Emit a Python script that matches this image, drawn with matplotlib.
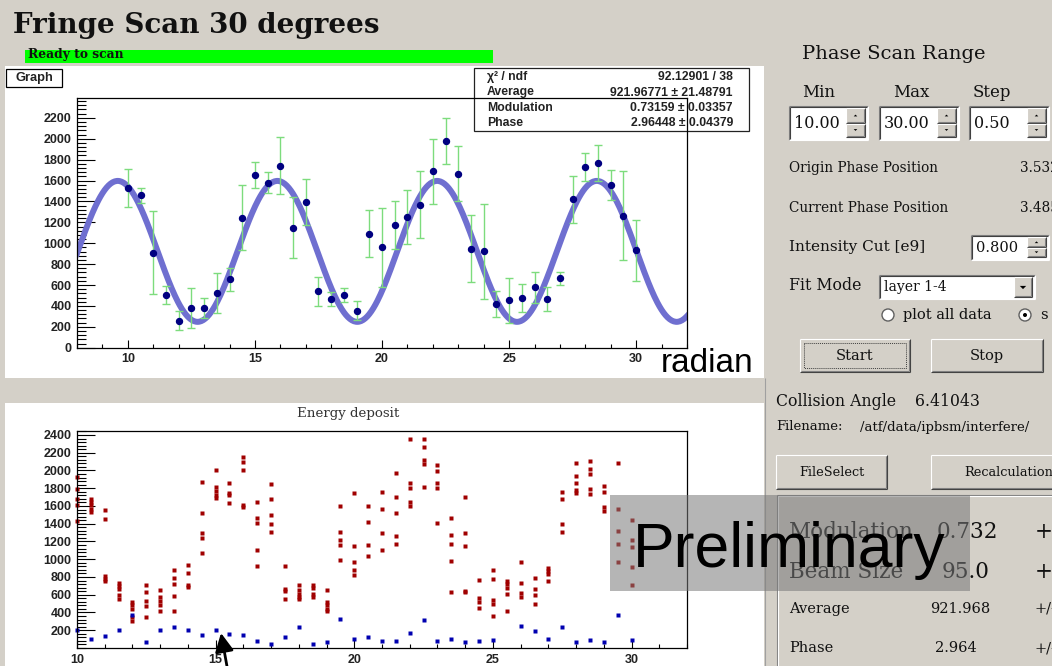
import numpy as np
import matplotlib.pyplot as plt
from matplotlib.patches import Rectangle, Circle, Polygon

W, H = 1052, 666
PANEL = '#d4d0c8'
SERIF = 'DejaVu Serif'
SANS = 'Liberation Sans'

# fit result shown in the stats box
fit_chi2 = '92.12901 / 38'
fit_average = 921.96771
fit_average_err = 21.48791
fit_modulation = 0.73159
fit_modulation_err = 0.03357
fit_phase = 2.96448
fit_phase_err = 0.04379

# fringe scan points (phase in radian)
phase_x = [10.0, 10.5, 11.0, 11.5, 12.0, 12.5, 13.0, 13.5, 14.0, 14.5,
           15.0, 15.5, 16.0, 16.5, 17.0, 17.5, 18.0, 18.5, 19.0, 19.5,
           20.0, 20.5, 21.0, 21.5, 22.0, 22.5, 23.0, 23.5, 24.0, 24.5,
           25.0, 25.5, 26.0, 26.5, 27.0, 27.5, 28.0, 28.5, 29.0, 29.5, 30.0]
signal = [1530, 1457, 908, 504, 258, 379, 379, 526, 653, 1246,
          1655, 1578, 1741, 1148, 1393, 539, 465, 507, 354, 1093,
          960, 1170, 1250, 1368, 1690, 1980, 1667, 947, 921, 418,
          456, 478, 577, 465, 663, 1419, 1728, 1769, 1556, 1263, 931]
signal_err = [185, 68, 397, 86, 93, 188, 98, 190, 108, 311,
              125, 100, 273, 291, 220, 140, 64, 68, 92, 223,
              378, 230, 261, 322, 311, 217, 261, 322, 451, 128,
              215, 132, 150, 115, 65, 223, 134, 170, 145, 427, 292]

# energy deposit: several layers (red) and background (blue) per phase step
energy_red = [
    [1922, 1787, 1682, 1614, 1430], [1680, 1645, 1610, 1570, 1530],
    [1554, 1449, 809, 775, 755], [734, 700, 665, 595, 550],
    [520, 480, 445, 350, 300], [708, 633, 527, 471, 350],
    [659, 580, 530, 490, 414], [877, 794, 719, 587, 414],
    [937, 845, 710, 690], [1874, 1524, 1291, 1234, 1065],
    [2005, 1810, 1772, 1723, 1693], [1862, 1750, 1720, 1629],
    [2156, 2096, 2005, 1610, 1592], [1640, 1464, 1407, 1103, 926],
    [1843, 1682, 1494, 1392, 1302], [926, 665, 640, 557],
    [708, 659, 614, 576, 550], [708, 681, 606, 569],
    [651, 520, 482, 444, 418], [1599, 1302, 1215, 1159, 997],
    [1742, 1148, 971, 877, 824], [1599, 1422, 1159, 1042],
    [1761, 1569, 1291, 1103], [1968, 1697, 1524, 1261, 1170],
    [2359, 1855, 1800, 1640, 1595], [2359, 2269, 2118, 2070, 1813],
    [2065, 1994, 1862, 1798, 1407], [1464, 1272, 1170, 982, 633],
    [1697, 1291, 1148, 644, 633], [764, 565, 520, 456],
    [881, 775, 546, 501, 358], [757, 720, 680, 606, 414],
    [967, 734, 621, 576], [794, 670, 595, 501],
    [907, 870, 830, 753], [1761, 1682, 1392, 1302],
    [2080, 1934, 1859, 1780, 1750], [2107, 2017, 1960, 1787, 1734],
    [1828, 1753, 1592, 1547], [2080, 1569, 1317, 1170, 967],
    [1437, 1215, 1140, 911, 708],
]
energy_blue = [200, 106, 136, 200, 369, 65, 208, 238, 208, 151,
               200, 162, 151, 80, 50, 121, 238, 50, 65, 324,
               106, 121, 80, 80, 166, 313, 80, 106, 65, 80,
               95, np.nan, 253, 196, 106, 238, 65, 95, 65, 369, 95]

top_xticks = [10, 15, 20, 25, 30]
top_yticks = list(range(0, 2201, 200))
bot_yticks = list(range(200, 2401, 200))


def rect(ax, x0, y0, x1, y1, **kw):
    ax.add_patch(Rectangle((x0, y0), x1 - x0, y1 - y0, **kw))


def line(ax, xs, ys, color, lw=0.8, **kw):
    ax.plot(xs, ys, color=color, lw=lw, solid_capstyle='butt', **kw)


def raised(ax, x0, y0, x1, y1):
    rect(ax, x0, y0, x1, y1, fc=PANEL, ec='none')
    line(ax, [x0, x1], [y0, y0], 'white')
    line(ax, [x0, x0], [y0, y1], 'white')
    line(ax, [x0, x1], [y1, y1], '#404040')
    line(ax, [x1, x1], [y0, y1], '#404040')
    line(ax, [x0 + 1, x1 - 1], [y1 - 1, y1 - 1], '#808080')
    line(ax, [x1 - 1, x1 - 1], [y0 + 1, y1 - 1], '#808080')


def sunken(ax, x0, y0, x1, y1, fc='white'):
    rect(ax, x0, y0, x1, y1, fc=fc, ec='none')
    line(ax, [x0, x1], [y0, y0], '#808080')
    line(ax, [x0, x0], [y0, y1], '#808080')
    line(ax, [x0 + 1, x1 - 1], [y0 + 1, y0 + 1], '#404040')
    line(ax, [x0 + 1, x0 + 1], [y0 + 1, y1 - 1], '#404040')
    line(ax, [x0, x1], [y1, y1], 'white')
    line(ax, [x1, x1], [y0, y1], 'white')


def arrow_tri(ax, cx, cy, up, s=2.2):
    d = -s if up else s
    ax.add_patch(Polygon([(cx - s, cy - d / 2), (cx + s, cy - d / 2), (cx, cy + d / 2)],
                         closed=True, fc='black', ec='none'))


def spinbox(ax, x0, y0, x1, y1, value, size=11.5):
    sunken(ax, x0, y0, x1, y1)
    bx0, bx1 = x1 - 22, x1 - 3
    ym = (y0 + y1) / 2
    raised(ax, bx0, y0 + 2, bx1, ym - 0.5)
    raised(ax, bx0, ym + 0.5, bx1, y1 - 3)
    arrow_tri(ax, (bx0 + bx1) / 2, (y0 + 2 + ym) / 2, True, 1.8)
    arrow_tri(ax, (bx0 + bx1) / 2, (ym + y1 - 3) / 2, False, 1.8)
    ax.text(x0 + 5, ym + 1, value, family=SERIF, size=size, va='center', color='#111')


fig = plt.figure(figsize=(W / 100, H / 100), dpi=100, facecolor=PANEL)

# background layer in pixel coordinates
bg = fig.add_axes([0, 0, 1, 1], zorder=0)
bg.set_xlim(0, W)
bg.set_ylim(H, 0)
bg.axis('off')

# canvases
rect(bg, 5, 66, 764, 378, fc='white', ec='none')
rect(bg, 5, 403, 764, H + 2, fc='white', ec='none')

# header
bg.text(13, 33, 'Fringe Scan 30 degrees', family=SERIF, weight='bold', size=20,
        va='baseline', color='#111')
rect(bg, 25, 50, 493, 63, fc='#00ff00', ec='none')
bg.text(28, 58, 'Ready to scan', family=SERIF, weight='bold', size=8.8,
        va='baseline', color='#111')

# "Graph" label and stats box
rect(bg, 6, 69, 62, 87, fc='white', ec='black', lw=0.9)
bg.text(34, 78.5, 'Graph', family=SANS, weight='bold', size=9.3, ha='center',
        va='center', color='#222')
rect(bg, 474, 68, 749, 131, fc='white', ec='#222', lw=0.9)
stats = [('χ² / ndf', fit_chi2),
         ('Average', f'{fit_average:.5f} ± {fit_average_err:.5f}'),
         ('Modulation', f'{fit_modulation:.5f} ± {fit_modulation_err:.5f}'),
         ('Phase', f'{fit_phase:.5f} ± {fit_phase_err:.5f}')]
for i, (name, val) in enumerate(stats):
    yy = 77 + i * 15.5
    bg.text(487, yy, name, family=SANS, weight='bold', size=8.8, va='center', color='#222')
    bg.text(733, yy, val, family=SANS, weight='bold', size=8.8, va='center', ha='right',
            color='#222')

bg.text(661, 372, 'radian', family=SANS, size=24, va='baseline', color='black')
bg.text(348, 414, 'Energy deposit', family=SERIF, size=9.6, ha='center', va='center',
        color='#333')

# right control panel
bg.text(802, 59, 'Phase Scan Range', family=SERIF, size=14, va='baseline', color='#111')
for label, xx in [('Min', 802), ('Max', 893), ('Step', 973)]:
    bg.text(xx, 97, label, family=SERIF, size=12, va='baseline', color='#111')
spinbox(bg, 789, 106, 868, 140, '10.00')
spinbox(bg, 879, 106, 959, 140, '30.00')
spinbox(bg, 969, 106, 1049, 140, '0.50')

bg.text(789, 168, 'Origin Phase Position', family=SERIF, size=9.8, va='center', color='#111')
bg.text(1020, 168, '3.532', family=SERIF, size=9.8, va='center', color='#111')
bg.text(789, 208, 'Current Phase Position', family=SERIF, size=9.8, va='center', color='#111')
bg.text(1020, 208, '3.485', family=SERIF, size=9.8, va='center', color='#111')

bg.text(789, 247, 'Intensity Cut [e9]', family=SERIF, size=11, va='center', color='#111')
spinbox(bg, 971, 235, 1049, 260, '0.800', size=10.5)

bg.text(789, 285, 'Fit Mode', family=SERIF, size=11.3, va='center', color='#111')
sunken(bg, 879, 275, 1035, 299)
raised(bg, 1014, 277, 1032, 297)
arrow_tri(bg, 1023, 287.5, False, 3.2)
bg.text(884, 287.5, 'layer 1-4', family=SERIF, size=10, va='center', color='#111')

# radio buttons
for cx, txt, on in [(888, 'plot all data', False), (1025, 's', True)]:
    bg.add_patch(Circle((cx, 315), 6, fc='white', ec='#606060', lw=1.0))
    if on:
        bg.add_patch(Circle((cx, 315), 2, fc='black', ec='none'))
    bg.text(cx + 15, 315, txt, family=SERIF, size=10.5, va='center', color='#111')

raised(bg, 800, 339, 910, 372)
rect(bg, 804, 343, 906, 368, fc='none', ec='#404040', lw=0.7, ls=(0, (1, 1)))
bg.text(855, 356, 'Start', family=SERIF, size=10.5, ha='center', va='center', color='#111')
raised(bg, 931, 339, 1043, 372)
bg.text(987, 356, 'Stop', family=SERIF, size=10.5, ha='center', va='center', color='#111')

bg.text(776, 402, 'Collision Angle', family=SERIF, size=11.3, va='center', color='#111')
bg.text(915, 402, '6.41043', family=SERIF, size=11.3, va='center', color='#111')
bg.text(776, 427, 'Filename:', family=SERIF, size=9.5, va='center', color='#111')
bg.text(860, 427, '/atf/data/ipbsm/interfere/', family=SERIF, size=9.5, va='center',
        color='#111')

raised(bg, 776, 455, 887, 489)
bg.text(831.5, 472, 'FileSelect', family=SERIF, size=9.3, ha='center', va='center',
        color='#111')
raised(bg, 931, 455, 1062, 489)
bg.text(964, 472, 'Recalculation', family=SERIF, size=9.3, va='center', color='#111')

# result group frame
line(bg, [777, W], [495, 495], '#808080')
line(bg, [777, W], [496, 496], 'white')
line(bg, [777, 777], [495, H], '#808080')
line(bg, [778, 778], [496, H], 'white')
line(bg, [765, 765], [378, H], '#a0a0a0')

results = [('Modulation', '0.732', 937, 532, 15.5),
           ('Beam Size', '95.0', 942, 572, 15.5),
           ('Average', '921.968', 930, 609, 10.5),
           ('Phase', '2.964', 935, 648, 10.5)]
for name, val, vx, yy, sz in results:
    bg.text(789, yy, name, family=SERIF, size=sz, va='center', color='#111')
    bg.text(vx, yy, val, family=SERIF, size=sz, va='center', color='#111')
    bg.text(1035, yy, '+/-', family=SERIF, size=sz, va='center', color='#111')


def root_axes(rect_px):
    x0, y0, x1, y1 = rect_px
    ax = fig.add_axes([x0 / W, 1 - y1 / H, (x1 - x0) / W, (y1 - y0) / H], zorder=2)
    ax.set_facecolor('none')
    for s in ax.spines.values():
        s.set_linewidth(0.9)
        s.set_color('black')
    ax.tick_params(axis='y', which='major', direction='in', length=13, width=0.8, pad=4,
                   colors='black', labelcolor='#222')
    ax.tick_params(axis='y', which='minor', direction='in', length=6.5, width=0.8)
    ax.tick_params(axis='x', which='major', direction='in', length=5.5, width=0.8, pad=4,
                   labelcolor='#222')
    ax.tick_params(axis='x', which='minor', direction='in', length=2.8, width=0.8)
    return ax


tick_font = dict(fontsize=9, fontweight='bold', family=SANS)

# --- fringe scan graph ---
ax1 = root_axes((77, 98, 687, 347.7))
xf = np.linspace(8, 32, 600)
ax1.plot(xf, fit_average * (1 + fit_modulation * np.cos(xf + fit_phase)),
         color='#6f6fd0', lw=4.3, zorder=2)
ax1.errorbar(phase_x, signal, yerr=signal_err, fmt='o', ms=4.3, color='#000080',
             ecolor='#7ddc7d', elinewidth=1.0, capsize=2.6, capthick=1.0, zorder=3)
ax1.set_xlim(8, 32)
ax1.set_ylim(0, 2390)
ax1.set_xticks(top_xticks, labels=[str(t) for t in top_xticks], **tick_font)
ax1.set_xticks(range(8, 33), minor=True)
ax1.set_yticks(top_yticks, labels=[str(t) for t in top_yticks], **tick_font)
ax1.set_yticks(range(0, 2390, 40), minor=True)

# --- energy deposit graph ---
ax2 = root_axes((77, 431, 687, 648))
red_x = [x for x, ys in zip(phase_x, energy_red) for _ in ys]
red_y = [y for ys in energy_red for y in ys]
ax2.plot(red_x, red_y, 's', ms=3.0, color='#a00000', mec='none', ls='none', clip_on=False)
ax2.plot(phase_x, energy_blue, 's', ms=3.0, color='#0000b0', mec='none', ls='none',
         clip_on=False)
ax2.set_xlim(10, 32)
ax2.set_ylim(0, 2445)
ax2.set_xticks(top_xticks, labels=[str(t) for t in top_xticks], **tick_font)
ax2.set_xticks(range(10, 33), minor=True)
ax2.set_yticks(bot_yticks, labels=[str(t) for t in bot_yticks], **tick_font)
ax2.set_yticks(range(0, 2445, 40), minor=True)

# overlay: preliminary stamp and arrow
ov = fig.add_axes([0, 0, 1, 1], zorder=5)
ov.set_xlim(0, W)
ov.set_ylim(H, 0)
ov.axis('off')
rect(ov, 610, 495, 970, 591, fc=(0.47, 0.47, 0.47), alpha=0.55, ec='none')
ov.text(633, 567, 'Preliminary', family=SANS, size=45, va='baseline', color='black')
ov.annotate('', xy=(221, 633), xytext=(228, 672),
            arrowprops=dict(arrowstyle='-|>', color='black', lw=2, mutation_scale=28,
                            shrinkA=0, shrinkB=0))

fig.savefig('out.png', dpi=100, facecolor=PANEL)
